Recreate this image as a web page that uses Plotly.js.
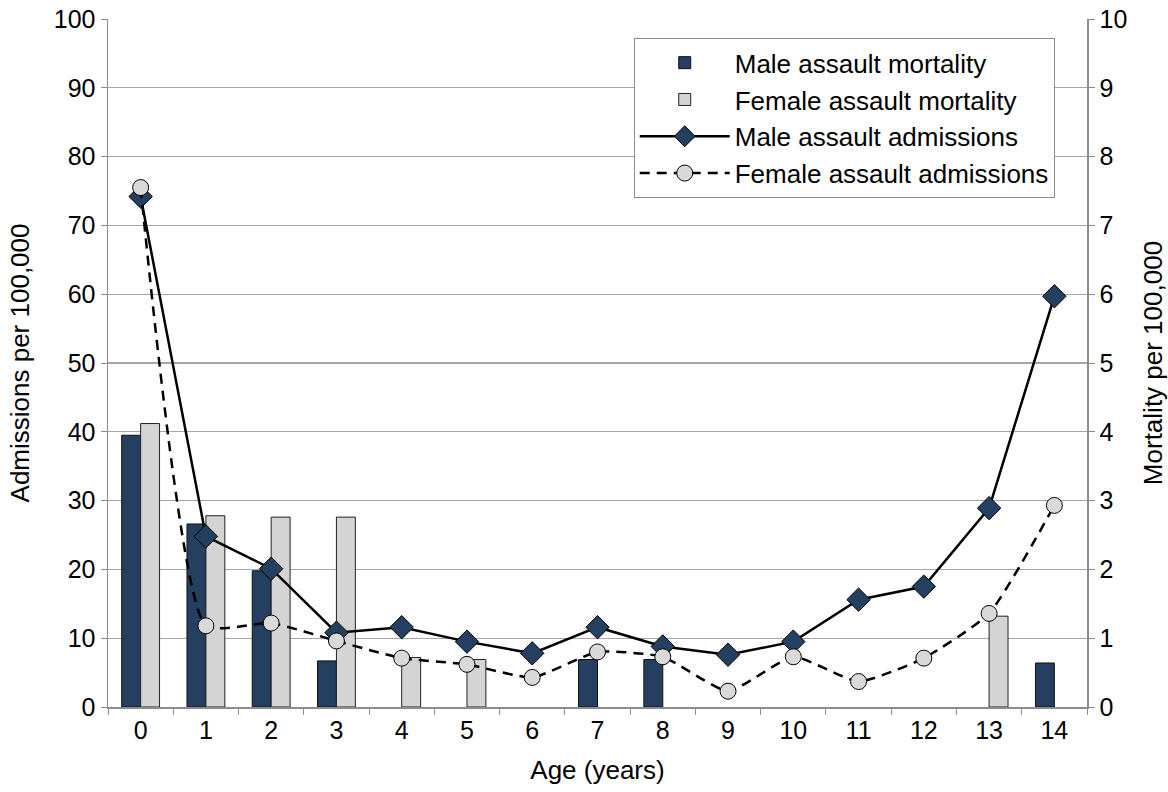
<!DOCTYPE html>
<html>
<head>
<meta charset="utf-8">
<script src="https://cdn.plot.ly/plotly-3.0.1.min.js"></script>
<style>html,body{margin:0;padding:0;background:#fff;}#chart{width:1168px;height:792px;}</style>
</head>
<body>
<div id="chart"></div>
<script>
const ages = ['0','1','2','3','4','5','6','7','8','9','10','11','12','13','14'];
const maleMortality   = [3.95, 2.66, 1.98, 0.67, null, null, null, 0.69, 0.69, null, null, null, null, null, 0.64];
const femaleMortality = [4.12, 2.78, 2.76, 2.76, 0.72, 0.69, null, null, null, null, null, null, null, 1.32, null];
const maleAdmissions   = [74.2, 24.8, 20.1, 10.8, 11.6, 9.5, 7.8, 11.6, 8.8, 7.6, 9.5, 15.6, 17.5, 28.9, 59.7];
const femaleAdmissions = [75.5, 11.8, 12.2, 9.6, 7.1, 6.2, 4.3, 8.0, 7.3, 2.3, 7.3, 3.7, 7.1, 13.6, 29.3];

const navy = '#243f60';
const lightGray = '#d4d4d4';
const axisGray = '#8c8c8c';
const FONT = 'Liberation Sans, Arial, sans-serif';

const traces = [
  {type:'bar', name:'Male assault mortality', x:ages, y:maleMortality, xaxis:'x', yaxis:'y',
   marker:{color:navy, line:{color:'#111', width:1}}},
  {type:'bar', name:'Female assault mortality', x:ages, y:femaleMortality, xaxis:'x', yaxis:'y',
   marker:{color:lightGray, line:{color:'#222', width:1}}},
  {type:'scatter', mode:'lines+markers', name:'Male assault admissions', x:ages, y:maleAdmissions,
   xaxis:'x', yaxis:'y2', line:{color:'#000', width:2.5},
   marker:{symbol:'diamond', size:18, color:navy, line:{color:'#000', width:1}}},
  {type:'scatter', mode:'lines+markers', name:'Female assault admissions', x:ages, y:femaleAdmissions,
   xaxis:'x', yaxis:'y2', line:{color:'#000', width:2.5, dash:'10px,7px', shape:'spline', smoothing:0.5},
   marker:{symbol:'circle', size:16, color:'#d9d9d9', line:{color:'#000', width:1}}}
];

const layout = {
  width:1168, height:792,
  margin:{l:108, r:81, t:19, b:85},
  paper_bgcolor:'#fff', plot_bgcolor:'#fff',
  font:{family:FONT, size:25, color:'#000'},
  barmode:'group', bargap:0.42, bargroupgap:0,
  showlegend:true,
  legend:{x:0.537, y:0.972, xanchor:'left', yanchor:'top', bgcolor:'#fff', itemwidth:90,
          bordercolor:axisGray, borderwidth:1, font:{family:FONT, size:26}, tracegroupgap:0},
  xaxis:{type:'category', range:[-0.5,14.5], tickson:'boundaries', ticks:'outside', ticklen:6, tickcolor:axisGray,
         showline:true, linecolor:axisGray, linewidth:1.5, showgrid:false, zeroline:false,
         tickfont:{family:FONT, size:25},
         title:{text:'Age (years)', font:{family:FONT, size:26}, standoff:18}},
  yaxis:{side:'right', range:[0,10], dtick:1, ticks:'outside', ticklen:6, tickcolor:axisGray,
         showline:true, linecolor:axisGray, linewidth:1.5, showgrid:true, gridcolor:'#a6a6a6', gridwidth:1.2,
         zeroline:false, tickfont:{family:FONT, size:25},
         title:{text:'Mortality per 100,000', font:{family:FONT, size:26}, standoff:18}},
  yaxis2:{side:'left', overlaying:'y', range:[0,100], dtick:10, ticks:'outside', ticklen:6, tickcolor:axisGray,
          showline:true, linecolor:axisGray, linewidth:1.5, showgrid:false, zeroline:false,
          tickfont:{family:FONT, size:25},
          title:{text:'Admissions per 100,000', font:{family:FONT, size:26}, standoff:16}}
};

Plotly.newPlot('chart', traces, layout, {displayModeBar:false, staticPlot:true});
</script>
</body>
</html>
